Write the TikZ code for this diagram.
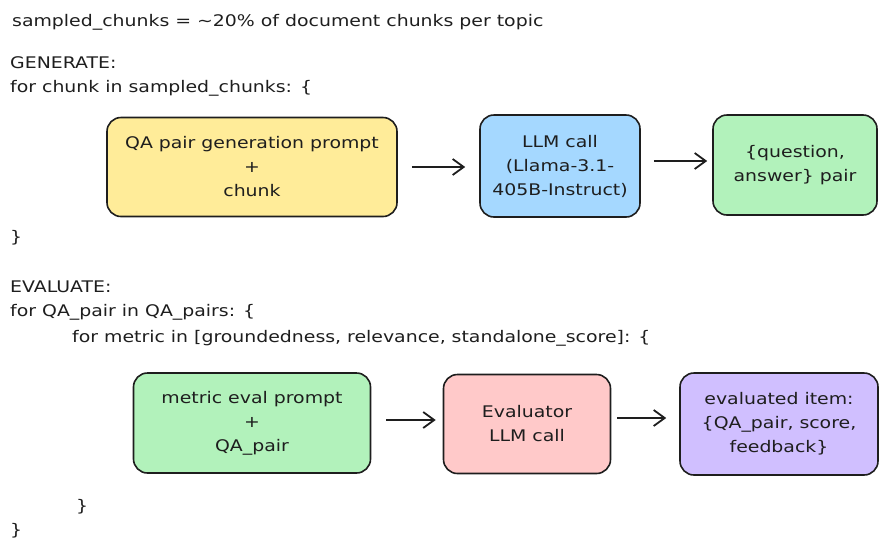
\documentclass[tikz,border=0pt]{standalone}
\usepackage{fontspec}
\setmainfont[FakeStretch=1.18]{DejaVu Sans}
\usepackage{tikz}
\usetikzlibrary{
  arrows.meta,
  positioning}

\definecolor{boxyellow}{HTML}{FFEC99}
\definecolor{boxblue}{HTML}{A5D8FF}
\definecolor{boxgreen}{HTML}{B2F2BB}
\definecolor{boxpink}{HTML}{FFC9C9}
\definecolor{boxpurple}{HTML}{D0BFFF}
\definecolor{ink}{HTML}{1E1E1E}

\begin{document}
\begin{tikzpicture}[x=1pt,y=-1pt]
\tikzset{
  code/.style={anchor=west, inner sep=0pt, font=\fontsize{16}{18}\selectfont, text=ink},
  stepbox/.style={draw=ink, line width=1.6pt, rounded corners=14pt, align=center,
    font=\fontsize{16}{24}\selectfont, text=ink, inner sep=0pt},
  flow/.style={draw=ink, line width=1.8pt, -{Straight Barb[length=11pt,width=16pt,line width=1.8pt]}},
}
\useasboundingbox (0,0) rectangle (888,555);

\node[code] (head) at (12,22) {sampled\_chunks = \textasciitilde 20\% of document chunks per topic};
\node[code] (gen) at (10,63) {GENERATE:};
\node[code] (genfor) at (10,88) {for chunk in sampled\_chunks: \{};
\node[code] (genend) at (10,238) {\}};
\node[code] (eval) at (10,287) {EVALUATE:};
\node[code] (evalfor) at (10,312) {for QA\_pair in QA\_pairs: \{};
\node[code] (metricfor) at (72,338) {for metric in [groundedness, relevance, standalone\_score]: \{};
\node[code] (metricend) at (76,507) {\}};
\node[code] (evalend) at (10,531) {\}};

\node[stepbox, fill=boxyellow, minimum width=290pt, minimum height=99pt] (prompt) at (252,167)
  {QA pair generation prompt\\+\\chunk};
\node[stepbox, fill=boxblue, minimum width=160pt, minimum height=102pt] (llm) at (560,166)
  {LLM call\\(Llama-3.1-\\405B-Instruct)};
\node[stepbox, fill=boxgreen, minimum width=164pt, minimum height=100pt] (pair) at (795,165)
  {\{question,\\answer\} pair};

\node[stepbox, fill=boxgreen, minimum width=237pt, minimum height=100pt] (metric) at (252,423)
  {metric eval prompt\\+\\QA\_pair};
\node[stepbox, fill=boxpink, minimum width=167pt, minimum height=99pt] (judge) at (527,424)
  {Evaluator\\LLM call};
\node[stepbox, fill=boxpurple, minimum width=198pt, minimum height=102pt] (item) at (779,424)
  {evaluated item:\\\{QA\_pair, score,\\feedback\}};

\draw[flow] ([xshift=14pt]prompt.east) -- ([xshift=-14pt]llm.west |- prompt.east);
\draw[flow] ([xshift=13pt,yshift=5pt]llm.east) -- ([xshift=-5pt,yshift=4pt]pair.west);
\draw[flow] ([xshift=15pt,yshift=3pt]metric.east) -- ([xshift=-7pt,yshift=4pt]judge.west);
\draw[flow] ([xshift=6pt,yshift=6pt]judge.east) -- ([xshift=-13pt,yshift=6pt]item.west);
\end{tikzpicture}
\end{document}
